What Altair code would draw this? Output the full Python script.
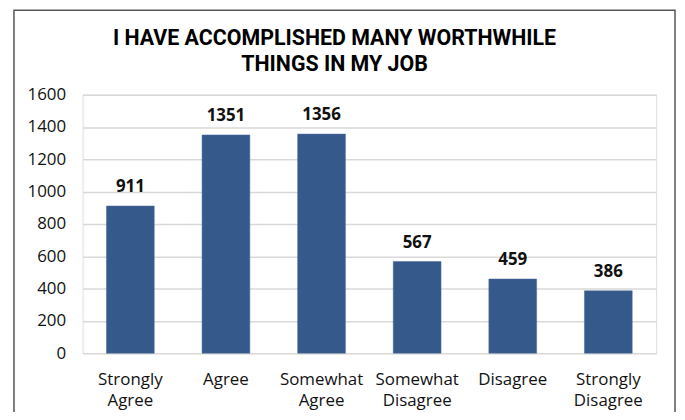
import altair as alt
import pandas as pd

categories = ["Strongly Agree", "Agree", "Somewhat Agree", "Somewhat Disagree", "Disagree", "Strongly Disagree"]
label_lines = [["Strongly", "Agree"], ["Agree"], ["Somewhat", "Agree"], ["Somewhat", "Disagree"], ["Disagree"], ["Strongly", "Disagree"]]
values = [911, 1351, 1356, 567, 459, 386]
title_lines = ["I HAVE ACCOMPLISHED MANY WORTHWHILE", "THINGS IN MY JOB"]
y_ticks = [0, 200, 400, 600, 800, 1000, 1200, 1400, 1600]

df = pd.DataFrame({"cat": categories, "value": values})

label_expr = "{" + ", ".join(
    f"'{c}': [" + ", ".join(f"'{l}'" for l in ls) + "]" for c, ls in zip(categories, label_lines)
) + "}[datum.value]"

FONT = "Open Sans"
BAR = "#36598b"

x = alt.X("cat:N", sort=categories, title=None,
          scale=alt.Scale(paddingInner=0.5, paddingOuter=0.25),
          axis=alt.Axis(labelAngle=0, labelFont=FONT, labelFontSize=17, labelColor="#111111",
                        labelPadding=19, labelLineHeight=21, ticks=False, domain=False,
                        labelExpr=label_expr, grid=False))
y = alt.Y("value:Q", title=None,
          scale=alt.Scale(domain=[0, 1600], nice=False),
          axis=alt.Axis(values=y_ticks, format="d", labelOverlap=False, labelFlush=False,
                        labelFont=FONT, labelFontSize=17, labelColor="#111111",
                        labelPadding=17, ticks=False, domain=False, grid=True,
                        gridColor="#d9d9d9", gridWidth=1.5))

bars = alt.Chart(df).mark_bar(color=BAR, stroke="#4a6c9a", strokeWidth=0.5).encode(x=x, y=y)
labels = alt.Chart(df).mark_text(font=FONT, fontSize=17, fontWeight="bold", color="#111111",
                                 baseline="alphabetic", dy=-14).encode(
    x=x, y=y, text="value:Q")

TFONT = "Roboto"
one = pd.DataFrame({"t1": [title_lines[0]], "t2": [title_lines[1]]})
title1 = alt.Chart(one).mark_text(font=TFONT, fontSize=21.5, fontWeight="bold",
                                  color="#000000", baseline="alphabetic", align="center").encode(
    x=alt.value(253.5), y=alt.value(-50), text="t1:N")
title2 = alt.Chart(one).mark_text(font=TFONT, fontSize=21.5, fontWeight="bold",
                                  color="#000000", baseline="alphabetic", align="center").encode(
    x=alt.value(253.5), y=alt.value(-24), text="t2:N")
frame = alt.Chart(one).mark_rect(fillOpacity=0, stroke="#555555", strokeWidth=1.5).encode(
    x=alt.value(-69), x2=alt.value(596), y=alt.value(-85), y2=alt.value(340))

chart = alt.layer(frame, bars, labels, title1, title2).properties(
    width=577, height=260,
    autosize=alt.AutoSizeParams(type="none"),
    padding={"left": 75, "top": 86, "right": 21, "bottom": 58},
).configure_view(stroke=None).configure(background="white")

chart.save("out.html", embed_options={"renderer": "svg", "actions": False})
